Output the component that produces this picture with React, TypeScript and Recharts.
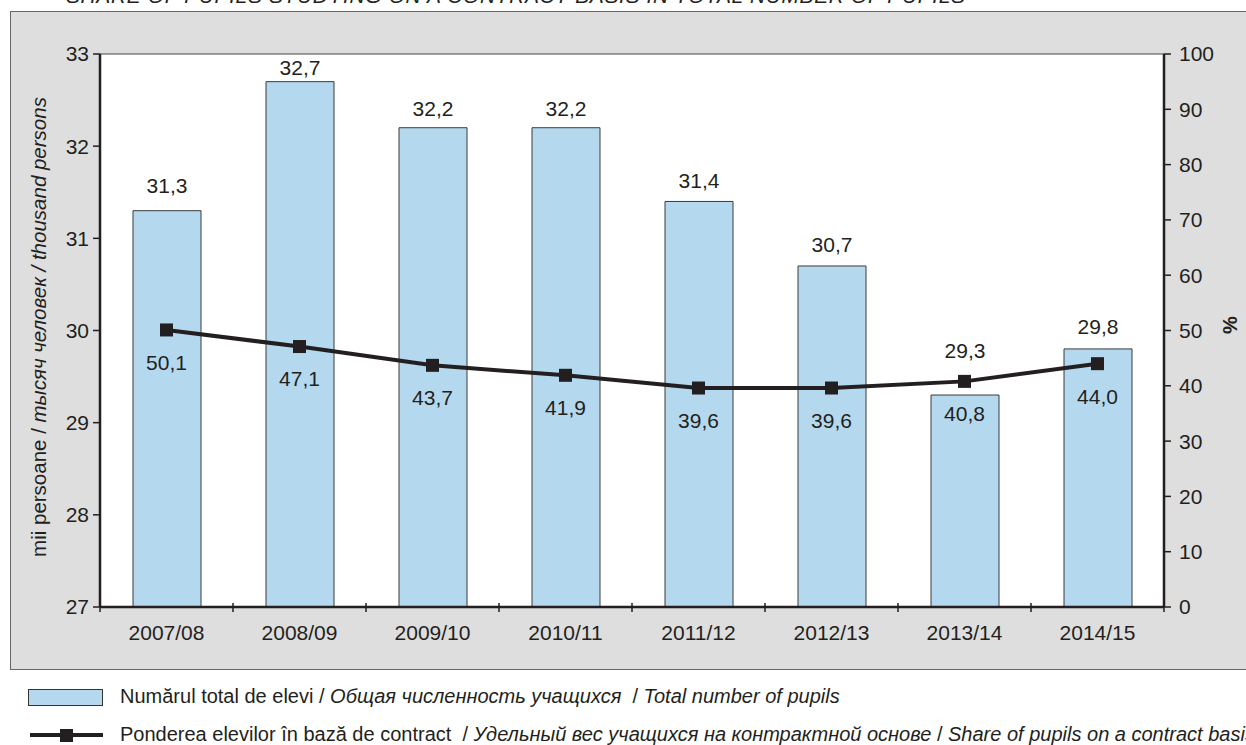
import { Bar, ComposedChart, CartesianGrid, LabelList, Line, ReferenceLine, XAxis, YAxis } from "recharts";

const years = ["2007/08", "2008/09", "2009/10", "2010/11", "2011/12", "2012/13", "2013/14", "2014/15"];
const pupils = [31.3, 32.7, 32.2, 32.2, 31.4, 30.7, 29.3, 29.8];
const contractShare = [50.1, 47.1, 43.7, 41.9, 39.6, 39.6, 40.8, 44.0];
const leftTicks = [27, 28, 29, 30, 31, 32, 33];
const rightTicks = [0, 10, 20, 30, 40, 50, 60, 70, 80, 90, 100];

const INK = "#231f20";
const FONT = "'Liberation Sans', Arial, sans-serif";
const BAR_FILL = "#b4d9ef";
const FS = 21;

const data = years.map((y, i) => ({ year: y, pupils: pupils[i], share: contractShare[i] }));

const fmt = (v: any) => Number(v).toFixed(1).replace(".", ",");

const BAND = 1064 / years.length;
// how far above the bar top each value label sits (the original places them by hand)
const labelLift = [25, 14, 19, 19, 21, 21, 45, 22];

function XTick(props: any) {
  const { x, y, payload, index } = props;
  return (
    <g>
      <line x1={x - BAND / 2} x2={x - BAND / 2} y1={y - 4} y2={y + 5} stroke={INK} strokeWidth={1.5} />
      {index === years.length - 1 && (
        <line x1={x + BAND / 2} x2={x + BAND / 2} y1={y - 4} y2={y + 5} stroke={INK} strokeWidth={1.5} />
      )}
      <text x={x} y={y + 25} textAnchor="middle" dominantBaseline="central" fill={INK} fontSize={FS} fontFamily={FONT}>
        {payload.value}
      </text>
    </g>
  );
}

function SquareDot(props: any) {
  const { cx, cy } = props;
  if (cx == null || cy == null) return null;
  return <rect x={cx - 6.5} y={cy - 6.5} width={13} height={13} fill={INK} />;
}

function BarValue(props: any) {
  const { x, y, width, value, index } = props;
  return (
    <text x={x + width / 2} y={y - labelLift[index]} textAnchor="middle" dominantBaseline="central" fill={INK} fontSize={FS} fontFamily={FONT}>
      {fmt(value)}
    </text>
  );
}

export default function App() {
  return (
    <div style={{ position: "fixed", left: 0, top: 0, width: 1246, height: 745, overflow: "hidden", background: "#fff", fontFamily: FONT, color: INK }}>
      <div
        style={{
          position: "absolute",
          left: 66,
          top: -16,
          whiteSpace: "nowrap",
          fontFamily: "'Liberation Sans Narrow', 'Arial Narrow', Arial, sans-serif",
          fontStyle: "italic",
          fontSize: 21,
          letterSpacing: 0.6,
          color: INK,
        }}
      >
        SHARE OF PUPILS STUDYING ON A CONTRACT BASIS IN TOTAL NUMBER OF PUPILS
      </div>
      <div style={{ position: "absolute", left: 10, top: 11, width: 1250, height: 659, background: "#dedede", border: "1px solid #666", boxSizing: "border-box" }} />
      <div style={{ position: "absolute", left: 10, top: 11 }}>
        <ComposedChart width={1240} height={660} data={data} margin={{ top: 43, right: 36, bottom: 24, left: 40 }} barSize={68}>
          <CartesianGrid fill="#ffffff" horizontal={false} vertical={false} yAxisId="left" />
          <XAxis
            dataKey="year"
            xAxisId={0}
            height={40}
            tickSize={0}
            tickMargin={0}
            tickLine={false}
            axisLine={{ stroke: INK, strokeWidth: 2.5 }}
            tick={<XTick />}
            interval={0}
          />
          <YAxis
            yAxisId="left"
            width={50}
            domain={[27, 33]}
            ticks={leftTicks}
            allowDataOverflow
            tickSize={7}
            tickMargin={4}
            axisLine={{ stroke: INK, strokeWidth: 2.5 }}
            tickLine={{ stroke: INK, strokeWidth: 1.5 }}
            tick={{ fill: INK, fontSize: FS, fontFamily: FONT }}
            label={{
              content: () => (
                <text
                  x={28}
                  y={316}
                  transform="rotate(-90 28 316)"
                  textAnchor="middle"
                  dominantBaseline="central"
                  fill={INK}
                  fontSize={20.5}
                  fontFamily={FONT}
                >
                  <tspan>mii persoane / </tspan>
                  <tspan fontStyle="italic">тысяч человек / thousand persons</tspan>
                </text>
              ),
            }}
          />
          <YAxis
            yAxisId="right"
            orientation="right"
            width={50}
            domain={[0, 100]}
            ticks={rightTicks}
            tickSize={7}
            tickMargin={8}
            axisLine={{ stroke: INK, strokeWidth: 2.5 }}
            tickLine={{ stroke: INK, strokeWidth: 1.5 }}
            tick={{ fill: INK, fontSize: FS, fontFamily: FONT }}
            label={{
              content: () => (
                <text
                  x={1220}
                  y={314}
                  transform="rotate(-90 1220 314)"
                  textAnchor="middle"
                  dominantBaseline="central"
                  fill={INK}
                  fontSize={20}
                  fontWeight="bold"
                  fontFamily={FONT}
                >
                  %
                </text>
              ),
            }}
          />
          <ReferenceLine yAxisId="left" y={33} stroke="#444" strokeWidth={1} />
          <Bar yAxisId="left" dataKey="pupils" fill={BAR_FILL} stroke="#3a3a3a" strokeWidth={1} isAnimationActive={false}>
            <LabelList dataKey="pupils" content={<BarValue />} />
          </Bar>
          <Line
            yAxisId="right"
            dataKey="share"
            stroke={INK}
            strokeWidth={4}
            dot={<SquareDot />}
            activeDot={false}
            isAnimationActive={false}
          >
            <LabelList dataKey="share" position="bottom" offset={25} formatter={fmt} fill={INK} fontSize={FS} fontFamily={FONT} />
          </Line>
        </ComposedChart>
      </div>
      <div style={{ position: "absolute", left: 28, top: 689, width: 75, height: 17, background: BAR_FILL, border: "1px solid #333", boxSizing: "border-box" }} />
      <div style={{ position: "absolute", left: 120, top: 685, fontSize: 20, whiteSpace: "nowrap" }}>
        Numărul total de elevi / <i>Общая численность учащихся</i> &nbsp;/ <i>Total number of pupils</i>
      </div>
      <div style={{ position: "absolute", left: 30, top: 733, width: 73, height: 4, background: INK }} />
      <div style={{ position: "absolute", left: 60, top: 728.5, width: 13, height: 13, background: INK }} />
      <div style={{ position: "absolute", left: 120, top: 723, fontSize: 20, whiteSpace: "nowrap" }}>
        Ponderea elevilor în bază de contract &nbsp;/ <i>Удельный вес учащихся на контрактной основе</i> / <i>Share of pupils on a contract basis</i>
      </div>
    </div>
  );
}
